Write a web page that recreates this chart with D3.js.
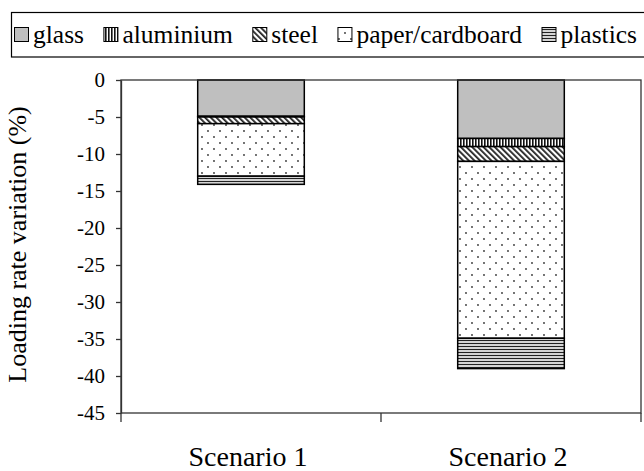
<!DOCTYPE html>
<html lang="en">
<head>
<meta charset="utf-8">
<script src="https://d3js.org/d3.v7.min.js"></script>
<style>
  body { margin: 0; background: #fff; }
  text { font-family: "Liberation Serif", "Times New Roman", serif; fill: #000; }
</style>
</head>
<body>
<div id="chart"></div>
<script>

// data
var scenarios = ["Scenario 1", "Scenario 2"];
var materials = ["glass", "aluminium", "steel", "paper/cardboard", "plastics"];
var glass     = [-4.9, -7.9];
var aluminium = [-0.1, -1.1];
var steel     = [-0.9, -2.0];
var paper     = [-7.1, -23.9];
var plastics  = [-1.1, -4.1];
var yTicks = [0, -5, -10, -15, -20, -25, -30, -35, -40, -45];

var rows = scenarios.map(function(s, i) {
  return {
    scenario: s,
    "glass": glass[i],
    "aluminium": aluminium[i],
    "steel": steel[i],
    "paper/cardboard": paper[i],
    "plastics": plastics[i]
  };
});

var W = 644, H = 471;
var margin = {top: 80, right: 3, bottom: 58, left: 121},
  width = W - margin.left - margin.right,
  height = H - margin.top - margin.bottom;

var svg = d3.select("#chart")
  .append("svg")
    .attr("width", W)
    .attr("height", H);

// fill patterns
var defs = svg.append("defs");

var pAlu = defs.append("pattern").attr("id", "p-alu")
  .attr("patternUnits", "userSpaceOnUse").attr("width", 3).attr("height", 3);
pAlu.append("rect").attr("width", 3).attr("height", 3).attr("fill", "#fff");
pAlu.append("rect").attr("width", 1.6).attr("height", 3).attr("fill", "#111");

var pSteel = defs.append("pattern").attr("id", "p-steel")
  .attr("patternUnits", "userSpaceOnUse").attr("width", 4).attr("height", 4)
  .attr("patternTransform", "rotate(-45)");
pSteel.append("rect").attr("width", 4).attr("height", 4).attr("fill", "#fff");
pSteel.append("rect").attr("width", 1.8).attr("height", 4).attr("fill", "#222");

var pPaper = defs.append("pattern").attr("id", "p-paper")
  .attr("patternUnits", "userSpaceOnUse").attr("width", 12).attr("height", 12);
pPaper.append("rect").attr("width", 12).attr("height", 12).attr("fill", "#fff");
pPaper.append("circle").attr("cx", 3).attr("cy", 3).attr("r", 0.9).attr("fill", "#333");
pPaper.append("circle").attr("cx", 9).attr("cy", 9).attr("r", 0.9).attr("fill", "#333");

var pPlast = defs.append("pattern").attr("id", "p-plast")
  .attr("patternUnits", "userSpaceOnUse").attr("width", 3).attr("height", 3);
pPlast.append("rect").attr("width", 3).attr("height", 3).attr("fill", "#d4d4d4");
pPlast.append("rect").attr("y", 2).attr("width", 3).attr("height", 1).attr("fill", "#222");

var fills = {
  "glass": "#bfbfbf",
  "aluminium": "url(#p-alu)",
  "steel": "url(#p-steel)",
  "paper/cardboard": "url(#p-paper)",
  "plastics": "url(#p-plast)"
};

// legend: items spread from x=14 to x=637
var leg = svg.append("g");
leg.append("rect")
  .attr("x", 11.5).attr("y", 12.5)
  .attr("width", 650).attr("height", 44.5)
  .attr("fill", "none").attr("stroke", "#000").attr("stroke-width", 1.2);

var sq = 14, sqGap = 5;
var items = materials.map(function(m) {
  var t = leg.append("text")
    .attr("y", 43)
    .style("font-size", "25.5px")
    .text(m);
  return {key: m, text: t, w: t.node().getComputedTextLength()};
});
var used = d3.sum(items, function(d) { return d.w + sq + sqGap; });
var gap = (637 - 14 - used) / (items.length - 1);
var lx = 14;
items.forEach(function(d) {
  leg.append("rect")
    .attr("x", lx + 0.5).attr("y", 27.5)
    .attr("width", sq).attr("height", sq)
    .attr("fill", fills[d.key]).attr("stroke", "#000").attr("stroke-width", 1);
  d.text.attr("x", lx + sq + sqGap);
  lx += sq + sqGap + d.w + gap;
});

var g = svg.append("g")
  .attr("transform", "translate(" + margin.left + "," + margin.top + ")");

var x = d3.scaleBand()
  .domain(scenarios)
  .range([0, width])
  .paddingInner(0.59)
  .paddingOuter(0.295);

var y = d3.scaleLinear()
  .domain([-45, 0])
  .range([height, 0]);

var series = d3.stack()
  .keys(materials)
  .offset(d3.stackOffsetDiverging)(rows);

g.selectAll("g.layer")
  .data(series)
  .enter().append("g")
    .attr("class", "layer")
    .attr("fill", function(d) { return fills[d.key]; })
  .selectAll("rect")
  .data(function(d) { return d; })
  .enter().append("rect")
    .attr("x", function(d) { return x(d.data.scenario); })
    .attr("y", function(d) { return y(Math.max(d[0], d[1])); })
    .attr("width", x.bandwidth())
    .attr("height", function(d) { return Math.abs(y(d[0]) - y(d[1])); })
    .attr("stroke", "#000")
    .attr("stroke-width", 1.5);

// frame
g.append("rect")
  .attr("width", width).attr("height", height)
  .attr("fill", "none").attr("stroke", "#333").attr("stroke-width", 1.3);

// y axis
var yAxis = g.append("g")
  .call(d3.axisLeft(y).tickValues(yTicks).tickSize(5).tickSizeOuter(0).tickPadding(11)
    .tickFormat(function(d) { return String(d); }));
yAxis.select(".domain").attr("stroke", "#333").attr("stroke-width", 1.3);
yAxis.selectAll(".tick line").attr("stroke", "#333").attr("stroke-width", 1.3);
yAxis.selectAll("text").style("font-size", "21px").attr("font-family", null);

// x axis
var xAxis = g.append("g")
  .attr("transform", "translate(-3," + height + ")")
  .call(d3.axisBottom(x).tickSize(0).tickPadding(33));
xAxis.select(".domain").remove();
xAxis.selectAll("text").style("font-size", "28px").attr("font-family", null);

var bounds = [0].concat(scenarios.map(function(s) { return x(s) + x.bandwidth() + x.step() * x.paddingInner() / 2; }));
bounds[bounds.length - 1] = width;
g.selectAll("line.xtick")
  .data(bounds)
  .enter().append("line")
    .attr("class", "xtick")
    .attr("x1", function(d) { return d; }).attr("x2", function(d) { return d; })
    .attr("y1", height).attr("y2", height + 9)
    .attr("stroke", "#333").attr("stroke-width", 1.3);

// y title
svg.append("text")
  .attr("transform", "translate(26," + (margin.top + height / 2 - 2) + ") rotate(-90)")
  .attr("text-anchor", "middle")
  .style("font-size", "26px")
  .text("Loading rate variation (%)");

</script>
</body>
</html>
